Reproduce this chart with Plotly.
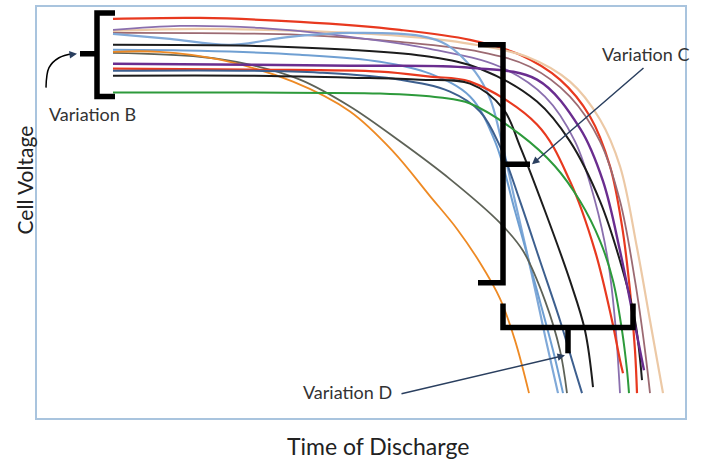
import plotly.graph_objects as go

# Discharge curves: time (arbitrary units) and cell voltage (arbitrary units)
red_top_t = [76, 163, 263, 363, 433, 483, 523, 553, 573, 585, 593, 598, 600]
red_top_v = [401, 402, 398, 390, 380, 365, 340, 303, 253, 193, 128, 68, 25]

tan_t = [76, 163, 263, 363, 433, 490, 533, 563, 583, 600, 613, 626]
tan_v = [389, 391, 389, 384, 376, 363, 338, 300, 253, 171, 98, 25]

mauve_t = [76, 263, 363, 443, 493, 533, 563, 583, 598, 608, 613]
mauve_v = [387, 385, 378, 368, 353, 323, 278, 218, 138, 68, 25]

purple_up_t = [76, 143, 223, 313, 393, 463, 508, 538, 558, 571, 578, 583]
purple_up_v = [390, 394, 392, 383, 371, 353, 323, 278, 218, 158, 98, 25]

lblue_t = [76, 133, 193, 253, 313, 383, 410, 438, 453, 463, 478, 494, 509, 521]
lblue_v = [386, 381, 375, 383, 387, 384, 375, 348, 321, 285, 218, 148, 78, 25]

black_a_t = [76, 213, 313, 393, 443, 500, 533, 563, 583, 598, 605]
black_a_v = [375, 374, 370, 363, 351, 318, 278, 218, 158, 98, 38]

steel_t = [76, 163, 263, 343, 393, 433, 458, 478, 500, 516, 526]
steel_v = [370, 369, 365, 358, 346, 323, 278, 208, 128, 68, 25]

gray_t = [76, 163, 213, 263, 313, 363, 413, 463, 486, 508, 523, 530]
gray_v = [367, 363, 355, 340, 313, 278, 240, 196, 168, 118, 68, 25]

orange_t = [76, 123, 183, 256, 313, 356, 393, 420, 443, 463, 478, 492]
orange_v = [368, 368, 360, 338, 308, 268, 223, 190, 156, 120, 78, 25]

purple_t = [76, 213, 313, 433, 500, 543, 566, 583, 595, 603, 607]
purple_v = [356, 355, 354, 352, 340, 291, 238, 168, 108, 68, 48]

red_mid_t = [76, 213, 343, 393, 433, 500, 533, 558, 575, 583, 586]
red_mid_v = [351, 350, 348, 343, 338, 295, 238, 168, 98, 58, 45]

dblue_t = [76, 213, 283, 363, 413, 443, 463, 483, 503, 523, 538, 545]
dblue_v = [349, 349, 347, 340, 328, 308, 273, 218, 158, 98, 48, 25]

black_b_t = [76, 213, 313, 383, 433, 466, 483, 508, 533, 548, 556]
black_b_v = [344, 344, 342, 340, 336, 311, 273, 208, 138, 88, 31]

green_t = [76, 213, 343, 403, 433, 483, 518, 543, 563, 576, 585, 590, 592]
green_v = [327, 327, 326, 322, 316, 285, 253, 218, 178, 138, 88, 48, 25]

curves = [
    (red_top_t, red_top_v, "#e8391f", 2.2),
    (tan_t, tan_v, "#ecc9a6", 2.2),
    (mauve_t, mauve_v, "#9c6a72", 1.8),
    (purple_up_t, purple_up_v, "#8a6fae", 1.8),
    (lblue_t, lblue_v, "#80a9d8", 2.2),
    (black_a_t, black_a_v, "#1c1c1c", 2.0),
    (steel_t, steel_v, "#6f9fd2", 2.0),
    (gray_t, gray_v, "#5e6257", 1.8),
    (orange_t, orange_v, "#ee8a24", 1.8),
    (purple_t, purple_v, "#6a2d8f", 2.4),
    (red_mid_t, red_mid_v, "#e8391f", 2.2),
    (dblue_t, dblue_v, "#3d5f8e", 2.0),
    (black_b_t, black_b_v, "#1c1c1c", 2.0),
    (green_t, green_v, "#2d9a3b", 2.0),
]

# Annotation brackets (same axis units)
brk_b_t = [78, 60, 60, 78]
brk_b_v = [407, 407, 323, 323]
stub_b_t = [60, 43]
stub_b_v = [366, 366]
curl_b_t = [9, 12, 22, 36]
curl_b_v = [332, 352, 362, 366]

brk_c_t = [441, 466, 466, 441]
brk_c_v = [375, 375, 136, 136]
stub_c_t = [466, 493]
stub_c_v = [255, 255]

brk_d_t = [466, 466, 596, 596]
brk_d_v = [115, 91, 91, 115]
stub_d_t = [531, 531]
stub_d_v = [91, 65]

fig = go.Figure()
for t, v, c, w in curves:
    fig.add_trace(go.Scatter(x=t, y=v, mode="lines",
                             line=dict(color=c, width=w, shape="spline", smoothing=1.0),
                             hoverinfo="skip", showlegend=False))

for t, v in [(brk_b_t, brk_b_v), (stub_b_t, stub_b_v), (brk_c_t, brk_c_v),
             (stub_c_t, stub_c_v), (brk_d_t, brk_d_v), (stub_d_t, stub_d_v)]:
    fig.add_trace(go.Scatter(x=t, y=v, mode="lines",
                             line=dict(color="black", width=5.5),
                             hoverinfo="skip", showlegend=False))

fig.add_trace(go.Scatter(x=curl_b_t, y=curl_b_v, mode="lines",
                         line=dict(color="black", width=1.5, shape="spline"),
                         hoverinfo="skip", showlegend=False))

lbl_family = "Lato, Open Sans, sans-serif"
font_lbl = dict(family=lbl_family, size=18, color="#333333")
annos = [
    dict(x=40, y=366, ax=32, ay=365, xref="x", yref="y", axref="x", ayref="y",
         showarrow=True, arrowhead=2, arrowsize=1, arrowwidth=1.5, text=""),
    dict(x=495, y=255, ax=608, ay=353, xref="x", yref="y", axref="x", ayref="y",
         showarrow=True, arrowhead=2, arrowsize=1, arrowwidth=1.5, text=""),
    dict(x=528, y=63, ax=363, ay=24, xref="x", yref="y", axref="x", ayref="y",
         showarrow=True, arrowhead=2, arrowsize=1, arrowwidth=1.5, text=""),
    dict(x=55, y=305, xref="x", yref="y", text="Variation B", showarrow=False, font=font_lbl),
    dict(x=608, y=366, xref="x", yref="y", text="Variation C", showarrow=False, font=font_lbl),
    dict(x=310, y=26, xref="x", yref="y", text="Variation D", showarrow=False, font=font_lbl),
    dict(x=-0.02, y=0.578, xref="paper", yref="paper", xanchor="center", yanchor="middle",
         text="Cell Voltage", textangle=-90,
         showarrow=False, font=dict(family=lbl_family, size=21, color="#222222")),
    dict(x=0.526, y=-0.068, xref="paper", yref="paper", xanchor="center", yanchor="middle",
         text="Time of Discharge",
         showarrow=False, font=dict(family=lbl_family, size=23, color="#222222")),
]

fig.update_layout(
    width=701, height=461,
    margin=dict(l=37, r=16, t=5, b=43),
    paper_bgcolor="white", plot_bgcolor="white",
    annotations=annos,
    xaxis=dict(range=[0, 648], showgrid=False, zeroline=False, showticklabels=False, ticks="",
               showline=True, mirror=True, linecolor="#a9c4de", linewidth=1.5),
    yaxis=dict(range=[0, 413], showgrid=False, zeroline=False, showticklabels=False, ticks="",
               showline=True, mirror=True, linecolor="#a9c4de", linewidth=1.5),
)

fig.write_html("out.html", config={"displayModeBar": False},
               post_script="document.body.style.margin='0px';")
